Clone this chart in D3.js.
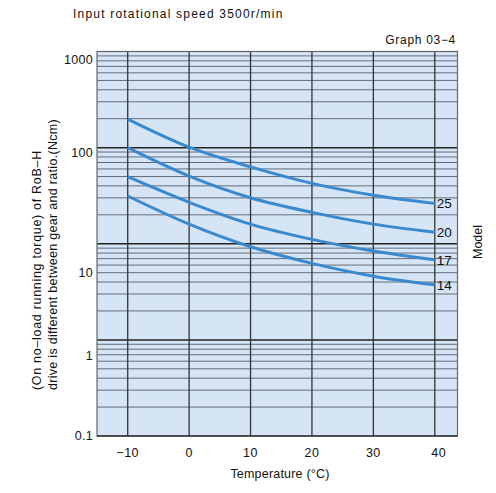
<!DOCTYPE html>
<html><head><meta charset="utf-8">
<script src="https://cdn.jsdelivr.net/npm/d3@7"></script>
<style>body{margin:0;background:#fff}svg{display:block;font-family:"Liberation Sans",Arial,sans-serif}</style>
</head><body><svg id="c" width="496" height="493"></svg>
<script>
const temps = [-10, 0, 10, 20, 30, 40];
const xTicks = [-10, 0, 10, 20, 30, 40];
const yTicks = [1000, 100, 10, 1, 0.1];
const yTickLabels = ["1000", "100", "10", "1", "0.1"];
const models = ["25", "20", "17", "14"];
const torque25 = [198, 101, 63, 42.5, 32, 26.3];
const torque20 = [100, 50.6, 30.1, 21.2, 16.0, 13.2];
const torque17 = [49.8, 27, 16.0, 11.1, 8.4, 6.8];
const torque14 = [31.4, 16.0, 9.3, 6.25, 4.6, 3.74];
const seriesValues = [torque25, torque20, torque17, torque14];

const svg = d3.select("#c");
const L = 97, R = 457.5, T = 51.5, B = 436;
const x = d3.scaleLinear().domain([-15, 43.7]).range([L, R]);
const y = d3.scaleLog().domain([0.1, 1000]).range([B, T]);
// label placement as drawn in the reference (labels sit off the decade lines)
const yLab = d3.scaleLinear().domain([3, 2, 1, 0, -1]).range([59, 152.5, 272, 355.3, 435.5]);

svg.append("rect").attr("x", L).attr("y", T).attr("width", R - L).attr("height", B - T).attr("fill", "#d5e5f6");

// minor horizontal grid
const minor = [];
for (let e = -1; e < 3; e++) for (let m = 2; m <= 9; m++) minor.push(m * Math.pow(10, e));
svg.append("g").selectAll("line").data(minor).join("line")
  .attr("x1", L).attr("x2", R).attr("y1", d => y(d)).attr("y2", d => y(d))
  .attr("stroke", "#666d76").attr("stroke-width", 1);
// decade lines
svg.append("g").selectAll("line").data([1, 10, 100]).join("line")
  .attr("x1", L).attr("x2", R).attr("y1", d => y(d)).attr("y2", d => y(d))
  .attr("stroke", "#222").attr("stroke-width", 1.5);
// vertical grid
svg.append("g").selectAll("line").data(xTicks).join("line")
  .attr("x1", d => x(d)).attr("x2", d => x(d)).attr("y1", T).attr("y2", B)
  .attr("stroke", "#333").attr("stroke-width", 1.3);
// frame
svg.append("rect").attr("x", L).attr("y", T).attr("width", R - L).attr("height", B - T)
  .attr("fill", "none").attr("stroke", "#666").attr("stroke-width", 1.2);
svg.append("line").attr("x1", L).attr("x2", R).attr("y1", B).attr("y2", B).attr("stroke", "#333").attr("stroke-width", 1.3);

// curves
const line = d3.line().x((d, i) => x(temps[i])).y(d => y(d)).curve(d3.curveMonotoneX);
svg.append("g").selectAll("path").data(seriesValues).join("path")
  .attr("d", d => line(d)).attr("fill", "none").attr("stroke", "#3a89cf").attr("stroke-width", 3);

// model labels
svg.append("g").selectAll("text").data(models).join("text")
  .attr("x", x(40) + 2).attr("y", (d, i) => y(seriesValues[i][5]) + 5)
  .attr("font-size", 13.5).attr("fill", "#111").text(d => d);

// x tick labels
svg.append("g").selectAll("text").data(xTicks).join("text")
  .attr("x", d => x(d) + (d === 40 ? 4 : 0)).attr("y", 457).attr("text-anchor", "middle")
  .attr("font-size", 12.5).attr("letter-spacing", 0.5).attr("fill", "#111").text(d => d < 0 ? "\u2212" + Math.abs(d) : d);
// y tick labels
svg.append("g").selectAll("text").data(yTicks).join("text")
  .attr("x", 93).attr("y", d => yLab(Math.log10(d)) + 4.5).attr("text-anchor", "end")
  .attr("font-size", 12.5).attr("letter-spacing", 0.3).attr("fill", "#111").text((d, i) => yTickLabels[i]);

// texts
svg.append("text").attr("x", 73).attr("y", 18).attr("font-size", 12).attr("letter-spacing", 1.2).attr("fill", "#111")
  .text("Input rotational speed 3500r/min");
svg.append("text").attr("x", 456).attr("y", 44).attr("text-anchor", "end").attr("font-size", 12).attr("letter-spacing", 0.7).attr("fill", "#111")
  .text("Graph 03\u22124");
svg.append("text").attr("x", 280).attr("y", 478).attr("text-anchor", "middle").attr("font-size", 12.5).attr("letter-spacing", 0.2).attr("fill", "#111")
  .text("Temperature (\u00b0C)");
svg.append("text").attr("transform", "translate(482,242) rotate(-90)").attr("text-anchor", "middle")
  .attr("font-size", 12.5).attr("fill", "#111").text("Model");
svg.append("text").attr("transform", "translate(41,390) rotate(-90)").attr("font-size", 12.5).attr("letter-spacing", 0.7).attr("fill", "#111")
  .text("(On no\u2013load running torque) of RoB\u2013H");
svg.append("text").attr("transform", "translate(57,390) rotate(-90)").attr("font-size", 12.5).attr("letter-spacing", 0.3).attr("fill", "#111")
  .text("drive is different between gear and ratio.(Ncm)");
</script></body></html>
